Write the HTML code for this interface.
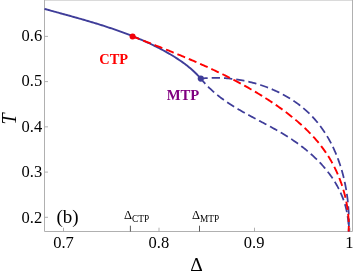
<!DOCTYPE html>
<html><head><meta charset="utf-8">
<style>
html,body{margin:0;padding:0;background:#fff;}
body{width:354px;height:273px;overflow:hidden;position:relative;font-family:"Liberation Serif",serif;color:#000;}
svg{position:absolute;left:0;top:0;}
.t{position:absolute;white-space:nowrap;line-height:1;}
#txt{position:absolute;left:0;top:0;width:354px;height:273px;will-change:transform;}
</style></head><body>
<svg width="354" height="273" viewBox="0 0 354 273">
<path d="M44.5 0V231.5H352.5V0" fill="none" stroke="#b0b0b0" stroke-width="1"/><path d="M45 0.5H352" fill="none" stroke="#dadada" stroke-width="1"/>
<g stroke="#a8a8a8" stroke-width="0.9" fill="none">
<path d="M44.5 36.4h3.5M44.5 81.6h3.5M44.5 126.85h3.5M44.5 172.1h3.5M44.5 217.3h3.5"/>
<path d="M63.5 231.5v-3.8M159 231.5v-3.8M254.5 231.5v-3.8M350 231.5v-3.8"/>
</g>
<g stroke="#444" stroke-width="0.9" fill="none">
<path d="M130.4 231.5v-5.8M199.5 231.5v-5.8"/>
</g>
<path d="M44.50 8.90 L45.88 9.28 L47.26 9.66 L48.64 10.04 L50.02 10.42 L51.41 10.80 L52.79 11.18 L54.18 11.56 L55.57 11.94 L56.97 12.32 L58.36 12.70 L59.75 13.09 L61.15 13.47 L62.55 13.85 L63.94 14.24 L65.34 14.62 L66.74 15.01 L68.15 15.40 L69.55 15.79 L70.95 16.18 L72.35 16.57 L73.76 16.96 L75.16 17.36 L76.57 17.75 L77.97 18.15 L79.38 18.55 L80.78 18.95 L82.19 19.35 L83.60 19.76 L85.00 20.17 L86.41 20.58 L87.81 20.99 L89.22 21.41 L90.63 21.82 L92.03 22.25 L93.44 22.67 L94.84 23.09 L96.24 23.52 L97.65 23.96 L99.05 24.39 L100.45 24.83 L101.85 25.27 L103.25 25.72 L104.65 26.16 L106.04 26.62 L107.44 27.07 L108.83 27.53 L110.22 27.99 L111.62 28.46 L113.01 28.93 L114.39 29.41 L115.78 29.89 L117.17 30.37 L118.55 30.86 L119.93 31.35 L121.31 31.85 L122.69 32.35 L124.06 32.86 L125.43 33.37 L126.80 33.89 L128.17 34.41 L129.54 34.94 L130.90 35.47 L132.26 36.00 L133.62 36.55 L134.97 37.10 L136.32 37.65 L137.67 38.21 L139.02 38.77 L140.36 39.34 L141.70 39.92 L143.04 40.50 L144.37 41.09 L145.70 41.69 L147.03 42.29 L148.35 42.90 L149.67 43.51 L150.98 44.13 L152.29 44.76 L153.60 45.39 L154.91 46.03 L156.21 46.68 L157.50 47.34 L158.79 48.00 L160.08 48.67 L161.36 49.35 L162.64 50.03 L163.92 50.72 L165.19 51.42 L166.45 52.13 L167.71 52.84 L168.97 53.56 L170.22 54.29 L171.46 55.03 L172.70 55.78 L173.94 56.54 L175.16 57.30 L176.38 58.08 L177.60 58.87 L178.80 59.67 L180.00 60.48 L181.19 61.30 L182.37 62.13 L183.54 62.98 L184.71 63.84 L185.86 64.72 L187.00 65.60 L188.14 66.50 L189.26 67.42 L190.37 68.35 L191.47 69.30 L192.56 70.26 L193.64 71.24 L194.70 72.24 L195.75 73.25 L196.79 74.29 L197.81 75.34 L198.82 76.40 L199.82 77.49 L200.80 78.60" fill="none" stroke="#3f3d99" stroke-width="1.9"/>
<path d="M200.80 78.60 L202.32 78.46 L203.84 78.33 L205.36 78.21 L206.89 78.11 L208.42 78.03 L209.95 77.97 L211.49 77.92 L213.03 77.89 L214.57 77.87 L216.11 77.88 L217.66 77.89 L219.20 77.93 L220.75 77.98 L222.30 78.05 L223.85 78.13 L225.40 78.23 L226.95 78.35 L228.50 78.48 L230.05 78.63 L231.59 78.79 L233.14 78.97 L234.69 79.17 L236.23 79.39 L237.78 79.62 L239.32 79.86 L240.86 80.12 L242.39 80.40 L243.93 80.70 L245.46 81.01 L246.98 81.34 L248.51 81.68 L250.03 82.04 L251.54 82.41 L253.06 82.80 L254.56 83.21 L256.07 83.63 L257.56 84.07 L259.05 84.53 L260.54 85.00 L262.02 85.49 L263.50 85.99 L264.96 86.51 L266.42 87.04 L267.88 87.59 L269.33 88.16 L270.77 88.74 L272.20 89.34 L273.62 89.95 L275.04 90.58 L276.44 91.22 L277.84 91.89 L279.23 92.56 L280.61 93.25 L281.98 93.96 L283.35 94.68 L284.70 95.42 L286.04 96.18 L287.37 96.95 L288.69 97.73 L290.00 98.53 L291.29 99.35 L292.58 100.18 L293.85 101.03 L295.11 101.89 L296.36 102.77 L297.60 103.66 L298.82 104.57 L300.03 105.50 L301.23 106.44 L302.41 107.39 L303.58 108.36 L304.74 109.35 L305.88 110.35 L307.00 111.37 L308.11 112.40 L309.21 113.45 L310.29 114.51 L311.35 115.59 L312.40 116.68 L313.43 117.79 L314.45 118.91 L315.45 120.05 L316.43 121.20 L317.40 122.36 L318.36 123.54 L319.29 124.73 L320.21 125.94 L321.12 127.16 L322.01 128.39 L322.88 129.64 L323.74 130.89 L324.58 132.16 L325.41 133.44 L326.22 134.73 L327.02 136.04 L327.80 137.35 L328.56 138.68 L329.31 140.01 L330.05 141.36 L330.77 142.71 L331.48 144.08 L332.17 145.46 L332.84 146.84 L333.50 148.23 L334.15 149.64 L334.78 151.05 L335.40 152.47 L336.00 153.89 L336.59 155.33 L337.16 156.77 L337.72 158.22 L338.27 159.68 L338.80 161.14 L339.31 162.61 L339.81 164.09 L340.30 165.57 L340.78 167.06 L341.24 168.55 L341.68 170.05 L342.11 171.55 L342.53 173.06 L342.93 174.57 L343.33 176.09 L343.70 177.61 L344.06 179.14 L344.41 180.67 L344.75 182.20 L345.07 183.73 L345.38 185.27 L345.68 186.81 L345.96 188.35 L346.23 189.89 L346.48 191.44 L346.73 192.99 L346.96 194.54 L347.17 196.08 L347.38 197.63 L347.57 199.19 L347.75 200.74 L347.91 202.29 L348.06 203.84 L348.20 205.39 L348.33 206.93 L348.45 208.48 L348.55 210.03 L348.64 211.57 L348.71 213.12 L348.78 214.66 L348.83 216.20 L348.87 217.73 L348.90 219.27 L348.92 220.80 L348.92 222.32 L348.91 223.85 L348.89 225.37 L348.86 226.88 L348.82 228.39 L348.76 229.90 L348.70 231.40" fill="none" stroke="#3f3d99" stroke-width="1.75" stroke-dasharray="8.3 4.01" stroke-dashoffset="1.4"/>
<path d="M200.80 78.60 L201.71 79.71 L202.64 80.81 L203.57 81.89 L204.52 82.95 L205.48 84.00 L206.46 85.03 L207.44 86.04 L208.43 87.04 L209.44 88.02 L210.45 88.99 L211.48 89.94 L212.51 90.88 L213.56 91.81 L214.61 92.72 L215.67 93.62 L216.75 94.51 L217.83 95.38 L218.92 96.24 L220.02 97.09 L221.12 97.93 L222.24 98.76 L223.36 99.57 L224.49 100.38 L225.63 101.18 L226.77 101.97 L227.92 102.74 L229.08 103.51 L230.24 104.27 L231.41 105.03 L232.58 105.77 L233.77 106.51 L234.95 107.24 L236.14 107.96 L237.34 108.68 L238.54 109.39 L239.75 110.09 L240.96 110.79 L242.17 111.48 L243.39 112.17 L244.61 112.86 L245.83 113.54 L247.06 114.22 L248.29 114.89 L249.52 115.56 L250.76 116.23 L251.99 116.89 L253.23 117.56 L254.47 118.22 L255.72 118.88 L256.96 119.54 L258.20 120.20 L259.45 120.86 L260.69 121.52 L261.94 122.18 L263.19 122.84 L264.43 123.51 L265.68 124.17 L266.92 124.84 L268.16 125.50 L269.41 126.18 L270.65 126.85 L271.89 127.53 L273.13 128.21 L274.36 128.89 L275.60 129.58 L276.83 130.27 L278.06 130.97 L279.28 131.68 L280.50 132.39 L281.72 133.10 L282.94 133.83 L284.15 134.56 L285.36 135.29 L286.56 136.04 L287.76 136.79 L288.95 137.55 L290.14 138.32 L291.33 139.09 L292.50 139.88 L293.68 140.67 L294.84 141.47 L296.00 142.28 L297.16 143.09 L298.30 143.92 L299.44 144.75 L300.58 145.60 L301.70 146.45 L302.82 147.30 L303.93 148.17 L305.03 149.05 L306.13 149.93 L307.21 150.82 L308.29 151.72 L309.36 152.63 L310.42 153.55 L311.47 154.48 L312.51 155.41 L313.54 156.36 L314.56 157.31 L315.57 158.27 L316.57 159.24 L317.56 160.22 L318.53 161.21 L319.50 162.20 L320.45 163.21 L321.40 164.22 L322.33 165.25 L323.25 166.28 L324.16 167.32 L325.05 168.37 L325.93 169.43 L326.80 170.49 L327.66 171.57 L328.50 172.66 L329.33 173.75 L330.14 174.86 L330.94 175.97 L331.73 177.09 L332.50 178.23 L333.25 179.37 L333.99 180.52 L334.72 181.68 L335.43 182.85 L336.12 184.03 L336.80 185.21 L337.46 186.41 L338.11 187.62 L338.74 188.83 L339.35 190.06 L339.94 191.30 L340.52 192.54 L341.08 193.80 L341.62 195.06 L342.15 196.33 L342.65 197.62 L343.14 198.91 L343.61 200.21 L344.06 201.53 L344.49 202.85 L344.90 204.18 L345.29 205.52 L345.66 206.88 L346.01 208.24 L346.34 209.61 L346.65 210.99 L346.94 212.38 L347.21 213.79 L347.45 215.20 L347.68 216.62 L347.88 218.05 L348.06 219.50 L348.22 220.95 L348.36 222.41 L348.48 223.88 L348.57 225.37 L348.63 226.86 L348.68 228.37 L348.70 229.88 L348.70 231.40" fill="none" stroke="#3f3d99" stroke-width="1.75" stroke-dasharray="8.3 4.01" stroke-dashoffset="1.4"/>
<path d="M132.60 36.40 L134.05 36.96 L135.51 37.53 L136.96 38.10 L138.41 38.67 L139.87 39.23 L141.32 39.80 L142.78 40.37 L144.23 40.94 L145.69 41.51 L147.15 42.08 L148.60 42.65 L150.06 43.22 L151.51 43.79 L152.97 44.36 L154.43 44.94 L155.89 45.51 L157.34 46.09 L158.80 46.66 L160.25 47.24 L161.71 47.82 L163.17 48.40 L164.62 48.98 L166.08 49.57 L167.53 50.15 L168.99 50.74 L170.44 51.33 L171.90 51.91 L173.35 52.51 L174.80 53.10 L176.26 53.69 L177.71 54.29 L179.16 54.89 L180.61 55.49 L182.06 56.09 L183.51 56.70 L184.96 57.30 L186.40 57.91 L187.85 58.52 L189.29 59.14 L190.74 59.75 L192.18 60.37 L193.62 60.99 L195.06 61.62 L196.50 62.25 L197.94 62.87 L199.38 63.51 L200.82 64.14 L202.25 64.78 L203.68 65.42 L205.11 66.07 L206.55 66.71 L207.97 67.37 L209.40 68.02 L210.83 68.68 L212.25 69.34 L213.67 70.00 L215.09 70.67 L216.51 71.34 L217.93 72.02 L219.34 72.70 L220.76 73.38 L222.17 74.06 L223.58 74.75 L224.98 75.45 L226.39 76.15 L227.79 76.85 L229.19 77.56 L230.59 78.27 L231.99 78.98 L233.38 79.70 L234.77 80.43 L236.16 81.15 L237.55 81.89 L238.93 82.62 L240.31 83.37 L241.69 84.11 L243.07 84.86 L244.44 85.62 L245.82 86.38 L247.19 87.15 L248.55 87.92 L249.91 88.70 L251.27 89.48 L252.63 90.27 L253.99 91.06 L255.34 91.85 L256.69 92.66 L258.03 93.47 L259.37 94.28 L260.71 95.10 L262.05 95.92 L263.38 96.76 L264.71 97.59 L266.04 98.44 L267.36 99.28 L268.68 100.14 L270.00 101.00 L271.31 101.87 L272.62 102.74 L273.92 103.62 L275.23 104.50 L276.52 105.39 L277.82 106.29 L279.10 107.20 L280.39 108.11 L281.67 109.03 L282.94 109.95 L284.21 110.89 L285.47 111.83 L286.73 112.77 L287.98 113.73 L289.22 114.69 L290.46 115.66 L291.69 116.64 L292.91 117.62 L294.13 118.62 L295.33 119.62 L296.53 120.63 L297.73 121.64 L298.91 122.67 L300.08 123.70 L301.25 124.75 L302.41 125.80 L303.55 126.86 L304.69 127.93 L305.82 129.01 L306.93 130.09 L308.04 131.19 L309.14 132.30 L310.22 133.41 L311.30 134.54 L312.36 135.67 L313.41 136.82 L314.45 137.97 L315.48 139.14 L316.49 140.31 L317.50 141.49 L318.49 142.69 L319.46 143.89 L320.43 145.11 L321.38 146.34 L322.31 147.57 L323.23 148.82 L324.14 150.08 L325.04 151.35 L325.91 152.63 L326.78 153.92 L327.63 155.22 L328.46 156.54 L329.28 157.86 L330.08 159.20 L330.87 160.54 L331.64 161.90 L332.40 163.26 L333.14 164.64 L333.86 166.02 L334.57 167.41 L335.26 168.81 L335.94 170.23 L336.60 171.64 L337.24 173.07 L337.87 174.51 L338.48 175.95 L339.08 177.40 L339.65 178.86 L340.21 180.32 L340.76 181.80 L341.29 183.28 L341.80 184.76 L342.29 186.26 L342.76 187.75 L343.22 189.26 L343.66 190.77 L344.09 192.29 L344.49 193.81 L344.88 195.33 L345.25 196.87 L345.60 198.40 L345.94 199.94 L346.25 201.49 L346.55 203.04 L346.83 204.59 L347.09 206.15 L347.34 207.71 L347.56 209.27 L347.77 210.84 L347.95 212.41 L348.12 213.98 L348.27 215.56 L348.40 217.14 L348.51 218.72 L348.60 220.30 L348.68 221.88 L348.73 223.47 L348.76 225.05 L348.78 226.64 L348.77 228.23 L348.74 229.81 L348.70 231.40" fill="none" stroke="#ff0000" stroke-width="1.9" stroke-dasharray="8.3 4.01" stroke-dashoffset="1.0"/>
<circle cx="132.6" cy="36.5" r="3.05" fill="#f20008"/>
<circle cx="200.8" cy="78.6" r="3.1" fill="#3f3d99"/>
</svg>
<div id="txt">
<div class="t" style="left:21.5px;top:27.8px;font-size:16.5px;">0.6</div>
<div class="t" style="left:21.5px;top:73.2px;font-size:16.5px;">0.5</div>
<div class="t" style="left:21.5px;top:118.8px;font-size:16.5px;">0.4</div>
<div class="t" style="left:21.5px;top:164.3px;font-size:16.5px;">0.3</div>
<div class="t" style="left:21.5px;top:210.4px;font-size:16.5px;">0.2</div>
<div class="t" style="left:53.2px;top:234.5px;font-size:16.5px;">0.7</div>
<div class="t" style="left:148.6px;top:234.5px;font-size:16.5px;">0.8</div>
<div class="t" style="left:243.8px;top:234.5px;font-size:16.5px;">0.9</div>
<div class="t" style="left:345.3px;top:234.5px;font-size:16.5px;">1</div>
<div class="t" style="left:56.4px;top:206.7px;font-size:19px;">(b)</div>
<div class="t" style="left:124px;top:209px;font-size:12.5px;">&Delta;<span style="font-size:9.3px;position:relative;top:2.5px;">CTP</span></div>
<div class="t" style="left:192px;top:209px;font-size:12.5px;">&Delta;<span style="font-size:9.3px;position:relative;top:2.5px;">MTP</span></div>
<div class="t" style="left:99.3px;top:52.0px;font-size:14.4px;font-weight:bold;color:#f00;">CTP</div>
<div class="t" style="left:166.7px;top:87.9px;font-size:14.7px;font-weight:bold;color:#800080;">MTP</div>
<div class="t" style="left:190.3px;top:255.2px;font-size:19.5px;">&Delta;</div>
<div class="t" id="ylab" style="left:8.5px;top:118.5px;font-size:20px;font-style:italic;transform:translate(-50%,-50%) rotate(-90deg);">T</div>
</div>
</body></html>
